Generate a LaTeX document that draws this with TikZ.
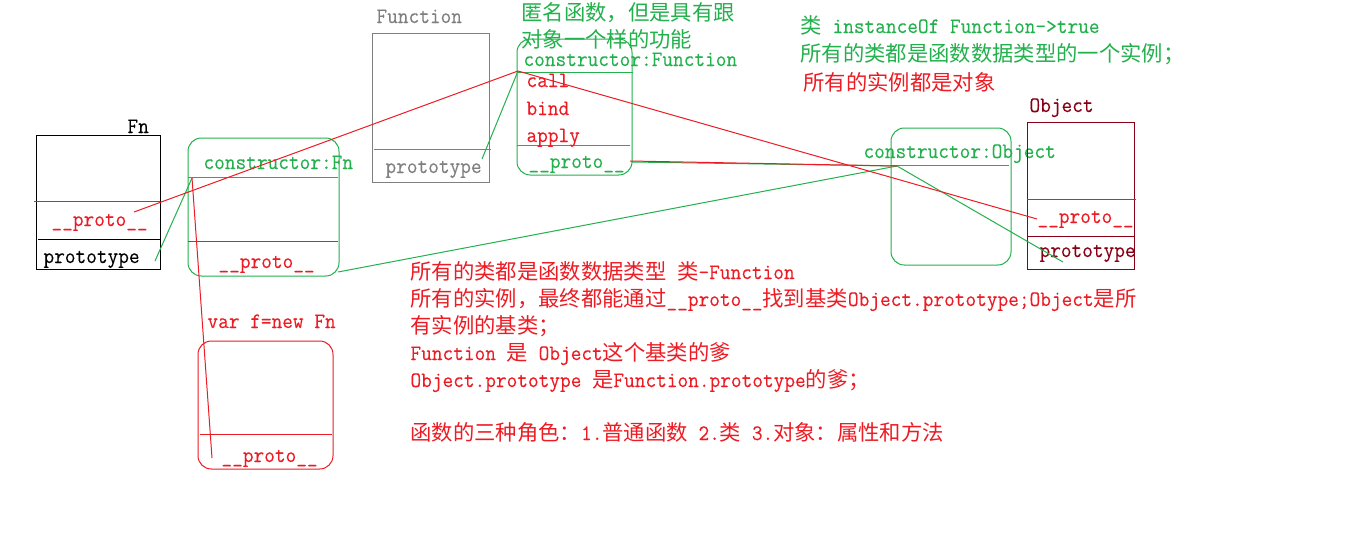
\documentclass[tikz,border=0pt]{standalone}
\usepackage{fontspec}
\setmonofont{Latin Modern Mono}[FakeStretch=0.94,FakeBold=0.15]
\newfontfamily\cjk{Noto Sans CJK SC}
\newcommand\C[1]{{\cjk\fontsize{16pt}{20pt}\selectfont #1}}
\definecolor{pgreen}{RGB}{34,177,76}
\definecolor{pred}{RGB}{237,28,36}
\definecolor{pdark}{RGB}{136,0,21}
\definecolor{pgray}{RGB}{127,127,127}
\begin{document}
\begin{tikzpicture}[x=0.75pt,y=-0.75pt,line width=0.75pt,
  txt/.style={anchor=base west,inner sep=0pt,font=\fontsize{16.55pt}{20pt}\ttfamily},
  rbox/.style={rounded corners=10pt}]
\useasboundingbox (0,0) rectangle (1360,540);
\fill[white] (0,0) rectangle (1360,540);

% ---- Fn box
\draw (36,135) rectangle (160,269);
\draw[pred] (34,201) -- (160,201);
\draw (38,239) -- (160,239);
\node[txt] (fnlab) at (127,133) {Fn};
\node[txt,pred] (fnproto) at (51,226) {\_\_proto\_\_};
\node[txt] (fnprot) at (43,263) {prototype};

% ---- Fn constructor box
\draw[pgreen,rbox] (188,138) rectangle (339,276);
\draw[pgreen] (188,177) -- (338,177);
\draw[pred] (188,241) -- (338,241);
\node[txt,pgreen] (fnctor) at (203,169) {constructor:Fn};
\node[txt,pred] (fncproto) at (218,268) {\_\_proto\_\_};

% ---- Function box
\draw[pgray] (372,33) rectangle (489,182);
\draw[pgray] (374,149) -- (491,149);
\node[txt,pgray] (funclab) at (376,23) {Function};
\node[txt,pgray] (funcprot) at (385,173) {prototype};

% ---- Function prototype box
\draw[pgreen,rbox] (517,39) rectangle (632,175);
\draw[pgreen] (517,72) -- (633,72);
\draw[pgreen] (517,145) -- (630,145);
\node[txt,pgreen] (anon1) at (521,20) {\C{匿名函数，但是具有跟}};
\node[txt,pgreen] (anon2) at (521,47) {\C{对象一个样的功能}};
\node[txt,pgreen] (fctor) at (523,66) {constructor:Function};
\node[txt,pred] (call) at (526,87) {call};
\node[txt,pred] (bind) at (526,115) {bind};
\node[txt,pred] (apply) at (526,142) {apply};
\node[txt,pgreen] (fproto) at (528,168) {\_\_proto\_\_};

% ---- Object constructor box
\draw[pgreen,rbox] (891,128) rectangle (1011,265);
\draw[pgreen] (891,165) -- (1009,165);
\node[txt,pgreen] (octor) at (863,158) {constructor:Object};

% ---- Object box
\draw[pdark] (1027,122) rectangle (1134,269);
\draw[pred] (1027,199) -- (1136,199);
\draw[pdark] (1027,236) -- (1134,236);
\node[txt,pdark] (objlab) at (1029,112) {Object};
\node[txt,pred] (oproto) at (1037,223) {\_\_proto\_\_};
\node[txt,pdark] (oprot) at (1039,257) {prototype};

% ---- instance f box
\draw[pred,rbox] (198,341) rectangle (333,469);
\draw[pred] (200,434) -- (332,434);
\node[txt,pred] (fvar) at (207,328) {var f=new Fn};
\node[txt,pred] (finst) at (221,462) {\_\_proto\_\_};

% ---- connector end points
\coordinate (cFnProto) at (134,212);
\coordinate (cFP) at (518,71);
\coordinate (cOP) at (1037,219);
\coordinate (cFPP) at (630,161);
\coordinate (cFPPg) at (632,162);
\coordinate (cOC) at (897,166);
\coordinate (cFnC) at (192,178);
\coordinate (cFnProt) at (155,261);
\coordinate (cF) at (212,458);
\coordinate (cFnCP) at (338,272);
\coordinate (cOProt) at (1063,262);
\coordinate (cFuncProt) at (482,159);

% ---- green connectors
\draw[pgreen] (cFnProt) -- (cFnC);
\draw[pgreen] (cFuncProt) -- (cFP);
\draw[pgreen] (cFnCP) -- (cOC);
\draw[pgreen] (cOProt) -- (cOC);
\draw[pgreen] (cFPPg) -- (cOC);
% ---- red connectors
\draw[pred] (cFnProto) -- (cFP);
\draw[pred] (cFP) -- (cOP);
\draw[pred] (cFPP) -- (cOC);
\draw[pred] (cFnC) -- (cF);

% ---- top right notes
\node[txt,pgreen] (n1) at (800,33) {\C{类} instanceOf Function->true};
\node[txt,pgreen] (n2) at (800,61) {\C{所有的类都是函数数据类型的一个实例；}};
\node[txt,pred] (n3) at (803,90) {\C{所有的实例都是对象}};

% ---- main notes
\node[txt,pred] (m1) at (410,279) {\C{所有的类都是函数数据类型} \C{类}-Function};
\node[txt,pred] (m2) at (410,306) {\C{所有的实例，最终都能通过}\_\_proto\_\_\C{找到基类}Object.prototype;Object\C{是所}};
\node[txt,pred] (m3) at (410,333) {\C{有实例的基类；}};
\node[txt,pred] (m4) at (410,360) {Function \C{是} Object\C{这个基类的爹}};
\node[txt,pred] (m5) at (410,387) {Object.prototype \C{是}Function.prototype\C{的爹；}};
\node[txt,pred] (m6) at (410,440) {\C{函数的三种角色：}1.\C{普通函数} 2.\C{类} 3.\C{对象：属性和方法}};
\end{tikzpicture}
\end{document}
